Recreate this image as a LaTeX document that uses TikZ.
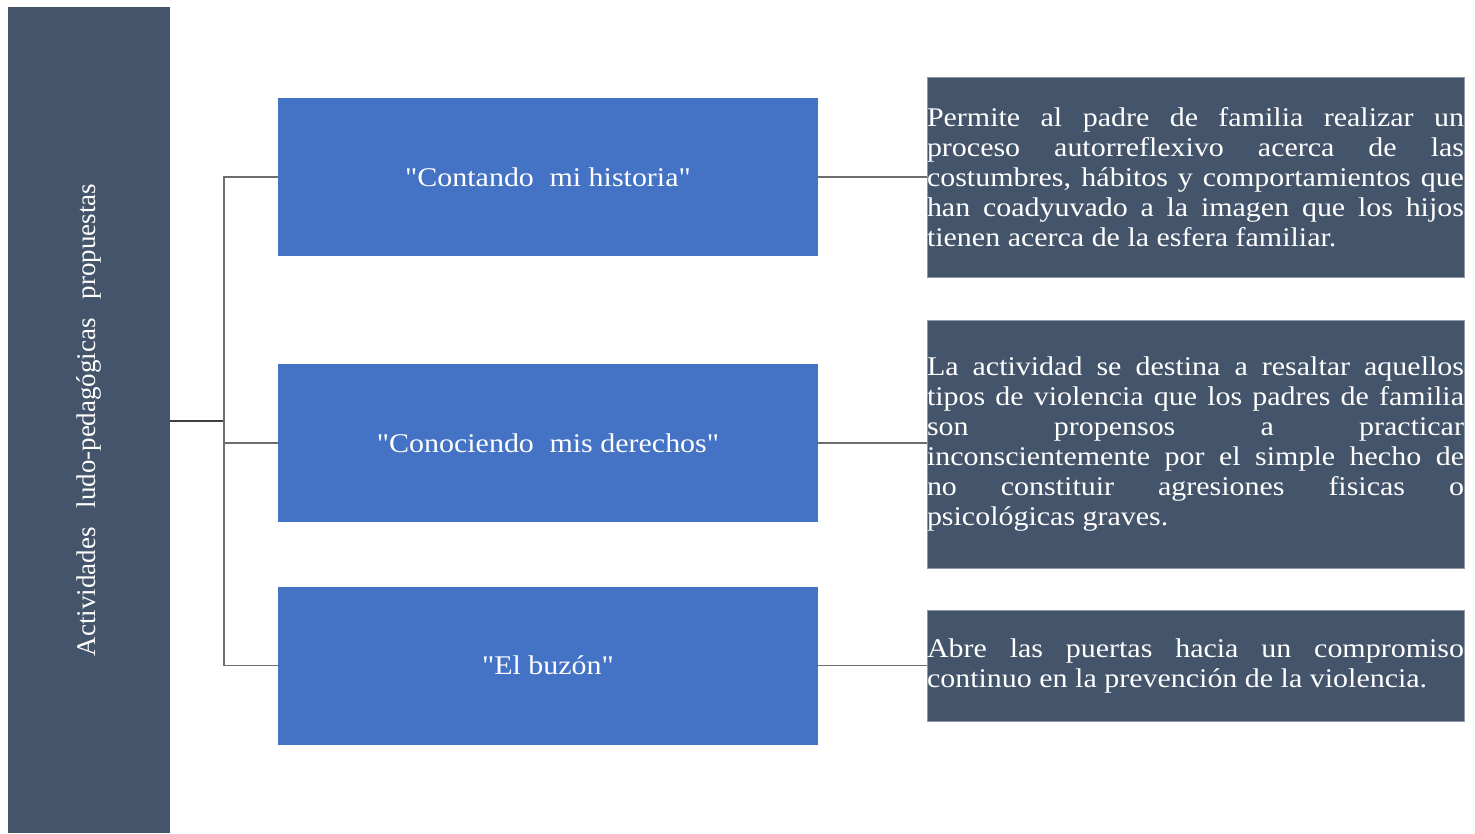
\documentclass[tikz,border=0pt]{standalone}
\usepackage{fontspec}
\setmainfont{Liberation Serif}[FakeStretch=1.11]
\newfontfamily\wfont{Liberation Serif}[FakeStretch=1.11]
\newfontfamily\barfont{Liberation Serif}
\definecolor{slate}{HTML}{44546A}
\definecolor{bluebox}{HTML}{4472C4}
\definecolor{linkgray}{HTML}{6E6E6E}
\begin{document}
\begin{tikzpicture}[x=1pt,y=-1pt,
  barbox/.style={fill=slate, draw=none, text=white, inner sep=0pt,
    minimum width=826pt, minimum height=162pt, rotate=90,
    font=\barfont\fontsize{27}{30}\selectfont},
  actbox/.style={fill=bluebox, draw=none, text=white, inner sep=0pt,
    minimum width=540pt, minimum height=158pt,
    font=\wfont\fontsize{27}{30}\selectfont},
  descbox/.style={fill=slate, draw=slate!60!white, line width=0.8pt, text=white,
    text width=537pt, inner xsep=0pt, inner ysep=0pt, align=justify,
    font=\wfont\fontsize{27}{30}\selectfont},
  link/.style={draw=linkgray, line width=1.4pt}]
\useasboundingbox (0,0) rectangle (1475,833);

\node[barbox] (bar) at (89,420) {Actividades\hspace{0.45em} ludo-pedagógicas\hspace{0.45em} propuestas};

\node[actbox] (a1) at (548,177) {"Contando\hspace{0.3em} mi historia"};
\node[actbox] (a2) at (548,443) {"Conociendo\hspace{0.3em} mis derechos"};
\node[actbox] (a3) at (548,665.5) {"El buzón"};

\node[descbox, minimum height=200pt] (d1) at (1195.5,177) {Permite al padre de familia realizar un\linebreak
proceso autorreflexivo acerca de las\linebreak
costumbres, hábitos y comportamientos que\linebreak
han coadyuvado a la imagen que los hijos\linebreak
tienen acerca de la esfera familiar.};

\node[descbox, minimum height=248pt] (d2) at (1195.5,444) {La actividad se destina a resaltar aquellos\linebreak
tipos de violencia que los padres de familia\linebreak
son propensos a practicar\linebreak
inconscientemente por el simple hecho de\linebreak
no constituir agresiones fisicas o\linebreak
psicológicas graves.};

\node[descbox, minimum height=111pt] (d3) at (1195.5,665.5) {Abre las puertas hacia un compromiso\linebreak
continuo en la prevención de la violencia.};

\coordinate (j) at (224,421);
\draw[link, draw=black!75] (bar.south |- j) -- (j);
\draw[link] (a1.west) -| (j) |- (a3.west);
\draw[link] (j |- a2.west) -- (a2.west);

\draw[link] (a1.east) -- (d1.west |- a1.east);
\draw[link] (a2.east) -- (d2.west |- a2.east);
\draw[link] (a3.east) -- (d3.west |- a3.east);
\end{tikzpicture}
\end{document}
